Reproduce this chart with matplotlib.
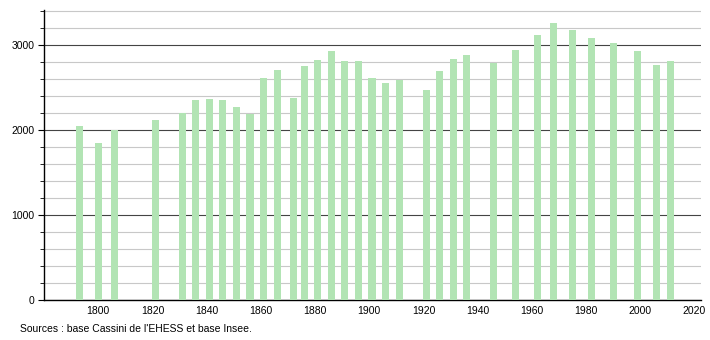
import matplotlib
matplotlib.use("Agg")
import matplotlib.pyplot as plt
from matplotlib.ticker import MultipleLocator

# annees de recensement et population
annees = [1793, 1800, 1806, 1821, 1831, 1836, 1841, 1846, 1851, 1856,
          1861, 1866, 1872, 1876, 1881, 1886, 1891, 1896, 1901, 1906,
          1911, 1921, 1926, 1931, 1936, 1946, 1954, 1962, 1968, 1975,
          1982, 1990, 1999, 2006, 2011]
population = [2050, 1850, 2000, 2118, 2196, 2353, 2365, 2353, 2270, 2192,
              2608, 2702, 2376, 2749, 2820, 2925, 2808, 2808, 2608, 2553,
              2592, 2467, 2694, 2831, 2878, 2792, 2937, 3114, 3255, 3173,
              3078, 3020, 2925, 2761, 2808]
source = "Sources : base Cassini de l'EHESS et base Insee."

plt.rcParams['font.family'] = ['Liberation Sans', 'DejaVu Sans']

fig = plt.figure(figsize=(7.1, 3.4), dpi=100)
ax = fig.add_axes([0.062, 0.1176, 0.925, 0.853])

ax.bar(annees, population, width=2.6, color='#b2e4b4', zorder=3)

ax.set_xlim(1780, 2022.3)
ax.set_ylim(0, 3410)
ax.set_xticks(range(1800, 2021, 20))
ax.set_yticks([0, 1000, 2000, 3000])
ax.yaxis.set_minor_locator(MultipleLocator(200))

# grille: lignes fortes tous les 1000, claires tous les 200
ax.grid(axis='y', which='minor', color='#c8c8c8', linewidth=0.8, zorder=1)
ax.grid(axis='y', which='major', color='#444444', linewidth=0.8, zorder=2)

for s in ['top', 'right']:
    ax.spines[s].set_visible(False)
ax.spines['left'].set_linewidth(1.0)
ax.spines['bottom'].set_linewidth(1.0)

ax.tick_params(axis='x', length=0, labelsize=7.5, pad=4)
ax.tick_params(axis='y', which='major', length=4, labelsize=7.5, pad=3)
ax.tick_params(axis='y', which='minor', length=3)

fig.text(20 / 710, 1 - 329 / 340, source, fontsize=7.5, va='center', ha='left')

fig.savefig("out.png", dpi=100)
